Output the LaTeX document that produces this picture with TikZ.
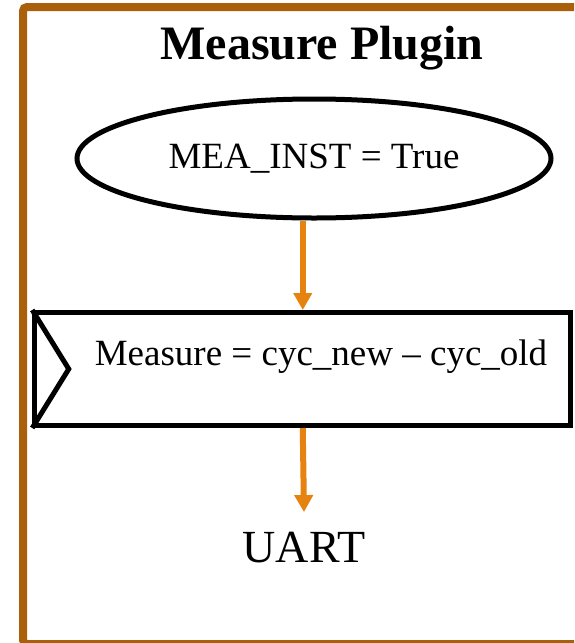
\documentclass[tikz,border=0pt]{standalone}
\usepackage{fontspec}
\setmainfont{Liberation Serif}
\usepackage{tikz}
\usetikzlibrary{shapes.geometric, arrows.meta}

\definecolor{framebrown}{RGB}{170,95,10}
\definecolor{floworange}{RGB}{230,130,15}

\begin{document}
\begin{tikzpicture}[x=1pt, y=-1pt,
  flow/.style={draw=floworange, line width=6pt, -{Triangle[width=18pt, length=17pt]}},
  txt/.style={font=\fontsize{37}{44}\selectfont}]
\useasboundingbox (0,0) rectangle (574,643);
\clip (0,0) rectangle (574,643);
% plugin frame, runs off the page on the right and bottom
\draw[framebrown, line width=8pt, rounded corners=4pt] (23,7) rectangle (590,644);
\node[font=\fontsize{48}{56}\selectfont\bfseries] (title) at (322,48) {Measure Plugin};
\node[draw, ellipse, line width=5pt, inner sep=0pt, minimum width=474pt, minimum height=119pt, txt] (cond) at (314,158.5) {MEA\_INST = True};
\node[draw, rectangle, line width=5pt, minimum width=536pt, minimum height=113pt] (calc) at (302.75,369) {};
\draw[line width=5pt, line join=miter] (calc.north west) -- ([xshift=36.5pt]calc.west) -- (calc.south west);
\node[txt] (calctxt) at (321,357) {Measure = cyc\_new -- cyc\_old};
\node[font=\fontsize{46}{54}\selectfont] (uart) at (304,548) {UART};
\draw[flow] (cond.south -| calc.north) -- (calc.north);
\draw[flow] (calc.south) -- ([yshift=17pt]uart.north);
\end{tikzpicture}
\end{document}
